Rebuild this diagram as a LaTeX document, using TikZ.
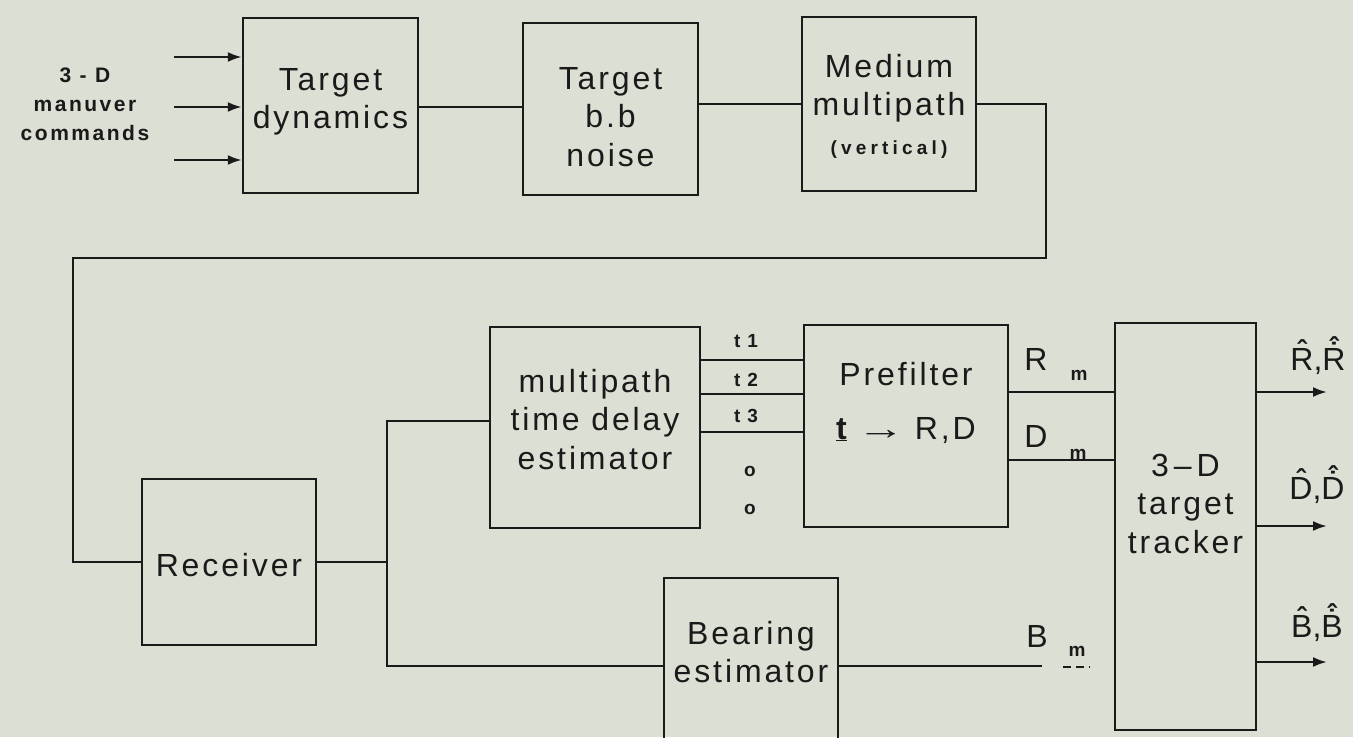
\documentclass[tikz,border=0pt]{standalone}
\usepackage{fontspec}
\setmainfont{Liberation Sans}
\newfontfamily\boxfont[LetterSpace=9]{Liberation Sans}
\newfontfamily\cmdfont[LetterSpace=12]{Liberation Sans Bold}
\newfontfamily\vertfont[LetterSpace=22]{Liberation Sans Bold}
\newfontfamily\tfont{Liberation Sans Bold}
\usetikzlibrary{arrows.meta}
\definecolor{bg}{HTML}{DCDFD3}
\definecolor{ink}{HTML}{1A1A1A}
\newcommand\lines[1]{\begin{tabular}[t]{@{}c@{}}#1\end{tabular}}
\newcommand\hatt[1]{\vbox{\offinterlineskip\halign{\hfil##\hfil\cr{\tfont\fontsize{28}{28}\selectfont\char"02C6}\cr\noalign{\kern-13pt}#1\cr}}}
\newcommand\hatdot[1]{\vbox{\offinterlineskip\halign{\hfil##\hfil\cr{\tfont\fontsize{28}{28}\selectfont\char"02C6}\cr\noalign{\kern-15.5pt}{\tfont\fontsize{28}{28}\selectfont\char"02D9}\cr\noalign{\kern-14.5pt}#1\cr}}}
\begin{document}
\begin{tikzpicture}[x=1pt,y=-1pt,
  wire/.style={draw=ink,line width=2.4pt},
  arrw/.style={wire,-{Latex[length=14pt,width=10pt]}},
  blk/.style={draw=ink,line width=2.4pt,inner sep=0pt,text height=0pt,text=ink,font=\boxfont\fontsize{32}{38.5}\selectfont},
  lbl/.style={inner sep=0pt,text=ink},
  bigtxt/.style={font=\boxfont\fontsize{32}{38.5}\selectfont},
  subtxt/.style={font=\tfont\fontsize{19}{22}\selectfont}]
\useasboundingbox (0,0) rectangle (1353,737);
\clip (0,0) rectangle (1353,737);
\fill[bg] (0,0) rectangle (1353,737);

% blocks
\node[blk,minimum width=175pt,minimum height=175pt,text depth=31pt] (td) at (330.5,105.5) {\lines{Target\\dynamics}};
\node[blk,minimum width=175pt,minimum height=172pt,text depth=40pt] (tbb) at (610.5,109) {\lines{Target\\b.b\\noise}};
\node[blk,minimum width=174pt,minimum height=174pt,text depth=54pt] (med) at (889,104) {\lines{Medium\\multipath\\{\vertfont\fontsize{19}{22}\selectfont(vertical)}}};
\node[blk,minimum width=174pt,minimum height=166pt,text height=28pt,text depth=0pt] (rec) at (229,562) {Receiver};
\node[blk,minimum width=210pt,minimum height=201pt,text depth=71pt] (mtd) at (595,427.5) {\lines{multipath\\time delay\\estimator}};
\node[blk,minimum width=204pt,minimum height=202pt,text depth=82pt] (pre) at (906,426) {\lines{Prefilter\\[15.5pt]\underline{\tfont t}\hspace{10pt}\scalebox{1.5}[1]{\char"2192}\hspace{10pt}R,D}};
\node[blk,minimum width=141pt,minimum height=407pt,text depth=101pt] (trk) at (1185.5,526.5) {\lines{3\kern5pt–\kern5pt D\\target\\tracker}};
\node[blk,minimum width=174pt,minimum height=190pt,text depth=58pt] (bear) at (751,673) {\lines{Bearing\\estimator}};

% left label
\node[lbl,align=center,font=\cmdfont\fontsize{21}{29}\selectfont] (cmd) at (85,104) {3 - D\\manuver\\commands};

% coordinates
\coordinate (in1) at (174,57);
\coordinate (in2) at (174,107);
\coordinate (in3) at (174,160);
\coordinate (w1) at (1046,258);
\coordinate (w2) at (73,258);
\coordinate (j) at (387,562);
\coordinate (jt) at (387,421);
\coordinate (jb) at (387,666);
\coordinate (y1) at (0,360);
\coordinate (y2) at (0,394);
\coordinate (y3) at (0,432);
\coordinate (rm) at (0,392);
\coordinate (dm) at (0,460);
\coordinate (bm) at (1042,666);
\coordinate (bd1) at (1063,667);
\coordinate (bd2) at (1090,667);
\coordinate (o1) at (1327,392);
\coordinate (o2) at (1327,526);
\coordinate (o3) at (1327,662);

% connectors
\draw[arrw] (in1) -- (in1 -| td.west);
\draw[arrw] (in2) -- (in2 -| td.west);
\draw[arrw] (in3) -- (in3 -| td.west);
\draw[wire] (td.east |- in2) -- (tbb.west |- in2);
\draw[wire] (tbb.east |- med.west) -- (med.west);
\draw[wire] (med.east) -| (w1) -- (w2) |- (rec.west);
\draw[wire] (rec.east) -- (j);
\draw[wire] (jt -| mtd.west) -- (jt) -- (jb) -- (jb -| bear.west);
\draw[wire] (mtd.east |- y1) -- (pre.west |- y1);
\draw[wire] (mtd.east |- y2) -- (pre.west |- y2);
\draw[wire] (mtd.east |- y3) -- (pre.west |- y3);
\draw[wire] (pre.east |- rm) -- (trk.west |- rm);
\draw[wire] (pre.east |- dm) -- (trk.west |- dm);
\draw[wire] (bear.east |- bm) -- (bm);
\draw[wire,line width=1.5pt,dash pattern=on 8pt off 5pt] (bd1) -- (bd2);
\draw[arrw] (trk.east |- o1) -- (o1);
\draw[arrw] (trk.east |- o2) -- (o2);
\draw[arrw] (trk.east |- o3) -- (o3);

% t labels and dots
\node[lbl,subtxt] (t1) at (746,341) {t\kern7pt 1};
\node[lbl,subtxt] (t2) at (746,380) {t\kern7pt 2};
\node[lbl,subtxt] (t3) at (746,416) {t\kern7pt 3};
\node[lbl,subtxt] (dot1) at (750,471) {o};
\node[lbl,subtxt] (dot2) at (750,509) {o};

% measured signals
\node[lbl,anchor=base,bigtxt] (rl) at (1036,370) {R};
\node[lbl,anchor=base,subtxt] (rs) at (1079,380) {m};
\node[lbl,anchor=base,bigtxt] (dl) at (1036,447) {D};
\node[lbl,anchor=base,subtxt] (ds) at (1078,459) {m};
\node[lbl,anchor=base,bigtxt] (bl) at (1037,647) {B};
\node[lbl,anchor=base,subtxt] (bs) at (1077,656) {m};

% outputs
\node[lbl,anchor=base,bigtxt] (rout) at (1318,370) {\hatt{R},\hatdot{R}};
\node[lbl,anchor=base,bigtxt] (dout) at (1317,499) {\hatt{D},\hatdot{D}};
\node[lbl,anchor=base,bigtxt] (bout) at (1317,637) {\hatt{B},\hatdot{B}};
\end{tikzpicture}
\end{document}
